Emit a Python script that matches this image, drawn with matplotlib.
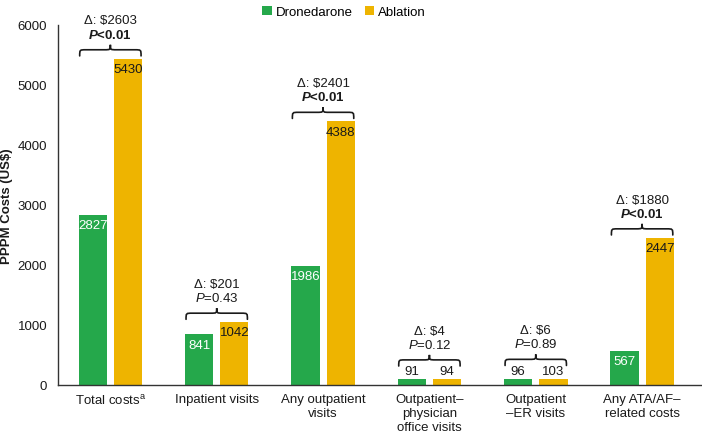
import matplotlib.pyplot as plt
from matplotlib.path import Path
from matplotlib.patches import PathPatch
import numpy as np

plt.rcParams['font.family'] = ['Liberation Sans', 'DejaVu Sans']
plt.rcParams['mathtext.fontset'] = 'custom'
plt.rcParams['mathtext.rm'] = 'Liberation Sans'
plt.rcParams['mathtext.it'] = 'Liberation Sans:italic'
plt.rcParams['mathtext.bf'] = 'Liberation Sans:bold'
plt.rcParams['mathtext.bfit'] = 'Liberation Sans:bold:italic'

categories = ["Total costs$^{\\mathrm{a}}$", "Inpatient visits", "Any outpatient\nvisits",
              "Outpatient\u2013\nphysician\noffice visits", "Outpatient\n\u2013ER visits",
              "Any ATA/AF\u2013\nrelated costs"]
dronedarone = [2827, 841, 1986, 91, 96, 567]
ablation = [5430, 1042, 4388, 94, 103, 2447]
deltas = [2603, 201, 2401, 4, 6, 1880]
p_values = ["<0.01", "=0.43", "<0.01", "=0.12", "=0.89", "<0.01"]
significant = [True, False, True, False, False, True]

GREEN = "#25A84B"
ORANGE = "#EEB400"
TXT = "#1a1a1a"


def brace(ax, x0, x1, y, h, color="#1a1a1a"):
    '''Dibuja una llave horizontal con la punta hacia arriba'''
    xm = (x0 + x1) / 2
    q = (x1 - x0) * 0.1
    yh = y + h * 0.55
    verts = [(x0, y), (x0, yh), (x0, yh), (x0 + q, yh),
             (xm - q, yh),
             (xm, yh), (xm, yh), (xm, y + h),
             (xm, yh), (xm, yh), (xm + q, yh),
             (x1 - q, yh),
             (x1, yh), (x1, yh), (x1, y)]
    codes = [Path.MOVETO, Path.CURVE4, Path.CURVE4, Path.CURVE4,
             Path.LINETO,
             Path.CURVE4, Path.CURVE4, Path.CURVE4,
             Path.CURVE4, Path.CURVE4, Path.CURVE4,
             Path.LINETO,
             Path.CURVE4, Path.CURVE4, Path.CURVE4]
    ax.add_patch(PathPatch(Path(verts, codes), fill=False, lw=1.2,
                           edgecolor=color, capstyle='round'))


fig = plt.figure(figsize=(7.02, 4.35), dpi=100)
ax = fig.add_axes([0.083, 0.113, 0.915, 0.828])

x = np.arange(len(categories))
w = 0.265
off = 0.166
ax.bar(x - off, dronedarone, w, color=GREEN, label="Dronedarone")
ax.bar(x + off, ablation, w, color=ORANGE, label="Ablation")

fs = 9.5
for i in range(len(categories)):
    for xv, v, col in [(x[i] - off, dronedarone[i], "white"), (x[i] + off, ablation[i], TXT)]:
        if v >= 300:
            ax.text(xv, v - 170, str(v), ha='center', va='center', fontsize=fs, color=col)
        else:
            ax.text(xv, v + 135, str(v), ha='center', va='center', fontsize=fs, color=TXT)
    top = max(dronedarone[i], ablation[i])
    base = top + 50 if top >= 300 else top + 220
    h = 185
    brace(ax, x[i] - off - w / 2 + 0.01, x[i] + off + w / 2 - 0.01, base, h)
    if significant[i]:
        ax.text(x[i], base + h + 175, r"$\mathbfit{P}$" + p_values[i], ha='center',
                va='center', fontsize=fs, color=TXT, fontweight='bold')
    else:
        ax.text(x[i], base + h + 175, r"$\mathit{P}$" + p_values[i], ha='center',
                va='center', fontsize=fs, color=TXT)
    ax.text(x[i], base + h + 405, "\u0394: $" + str(deltas[i]), ha='center', va='center',
            fontsize=fs, color=TXT)

ax.set_xlim(-0.49, 5.55)
ax.set_ylim(0, 6000)
ax.set_yticks(range(0, 6001, 1000))
ax.set_xticks(x)
ax.set_xticklabels(categories, fontsize=fs, color=TXT, linespacing=1.22)
ax.tick_params(axis='x', length=0, pad=6)
ax.tick_params(axis='y', length=0, pad=8, labelsize=fs, labelcolor=TXT)
for s in ['top', 'right']:
    ax.spines[s].set_visible(False)
for s in ['left', 'bottom']:
    ax.spines[s].set_color("#333333")
    ax.spines[s].set_linewidth(1.0)
ax.set_ylabel("PPPM Costs (US$)", fontsize=fs, fontweight='bold', color=TXT)
ax.yaxis.set_label_coords(-0.071, 0.5)

fig.legend(loc='upper center', bbox_to_anchor=(0.49, 1.012), ncol=2, frameon=False,
           fontsize=fs, handlelength=0.75, handleheight=0.75, handletextpad=0.3,
           columnspacing=0.9)

fig.savefig("out.png", dpi=100)
